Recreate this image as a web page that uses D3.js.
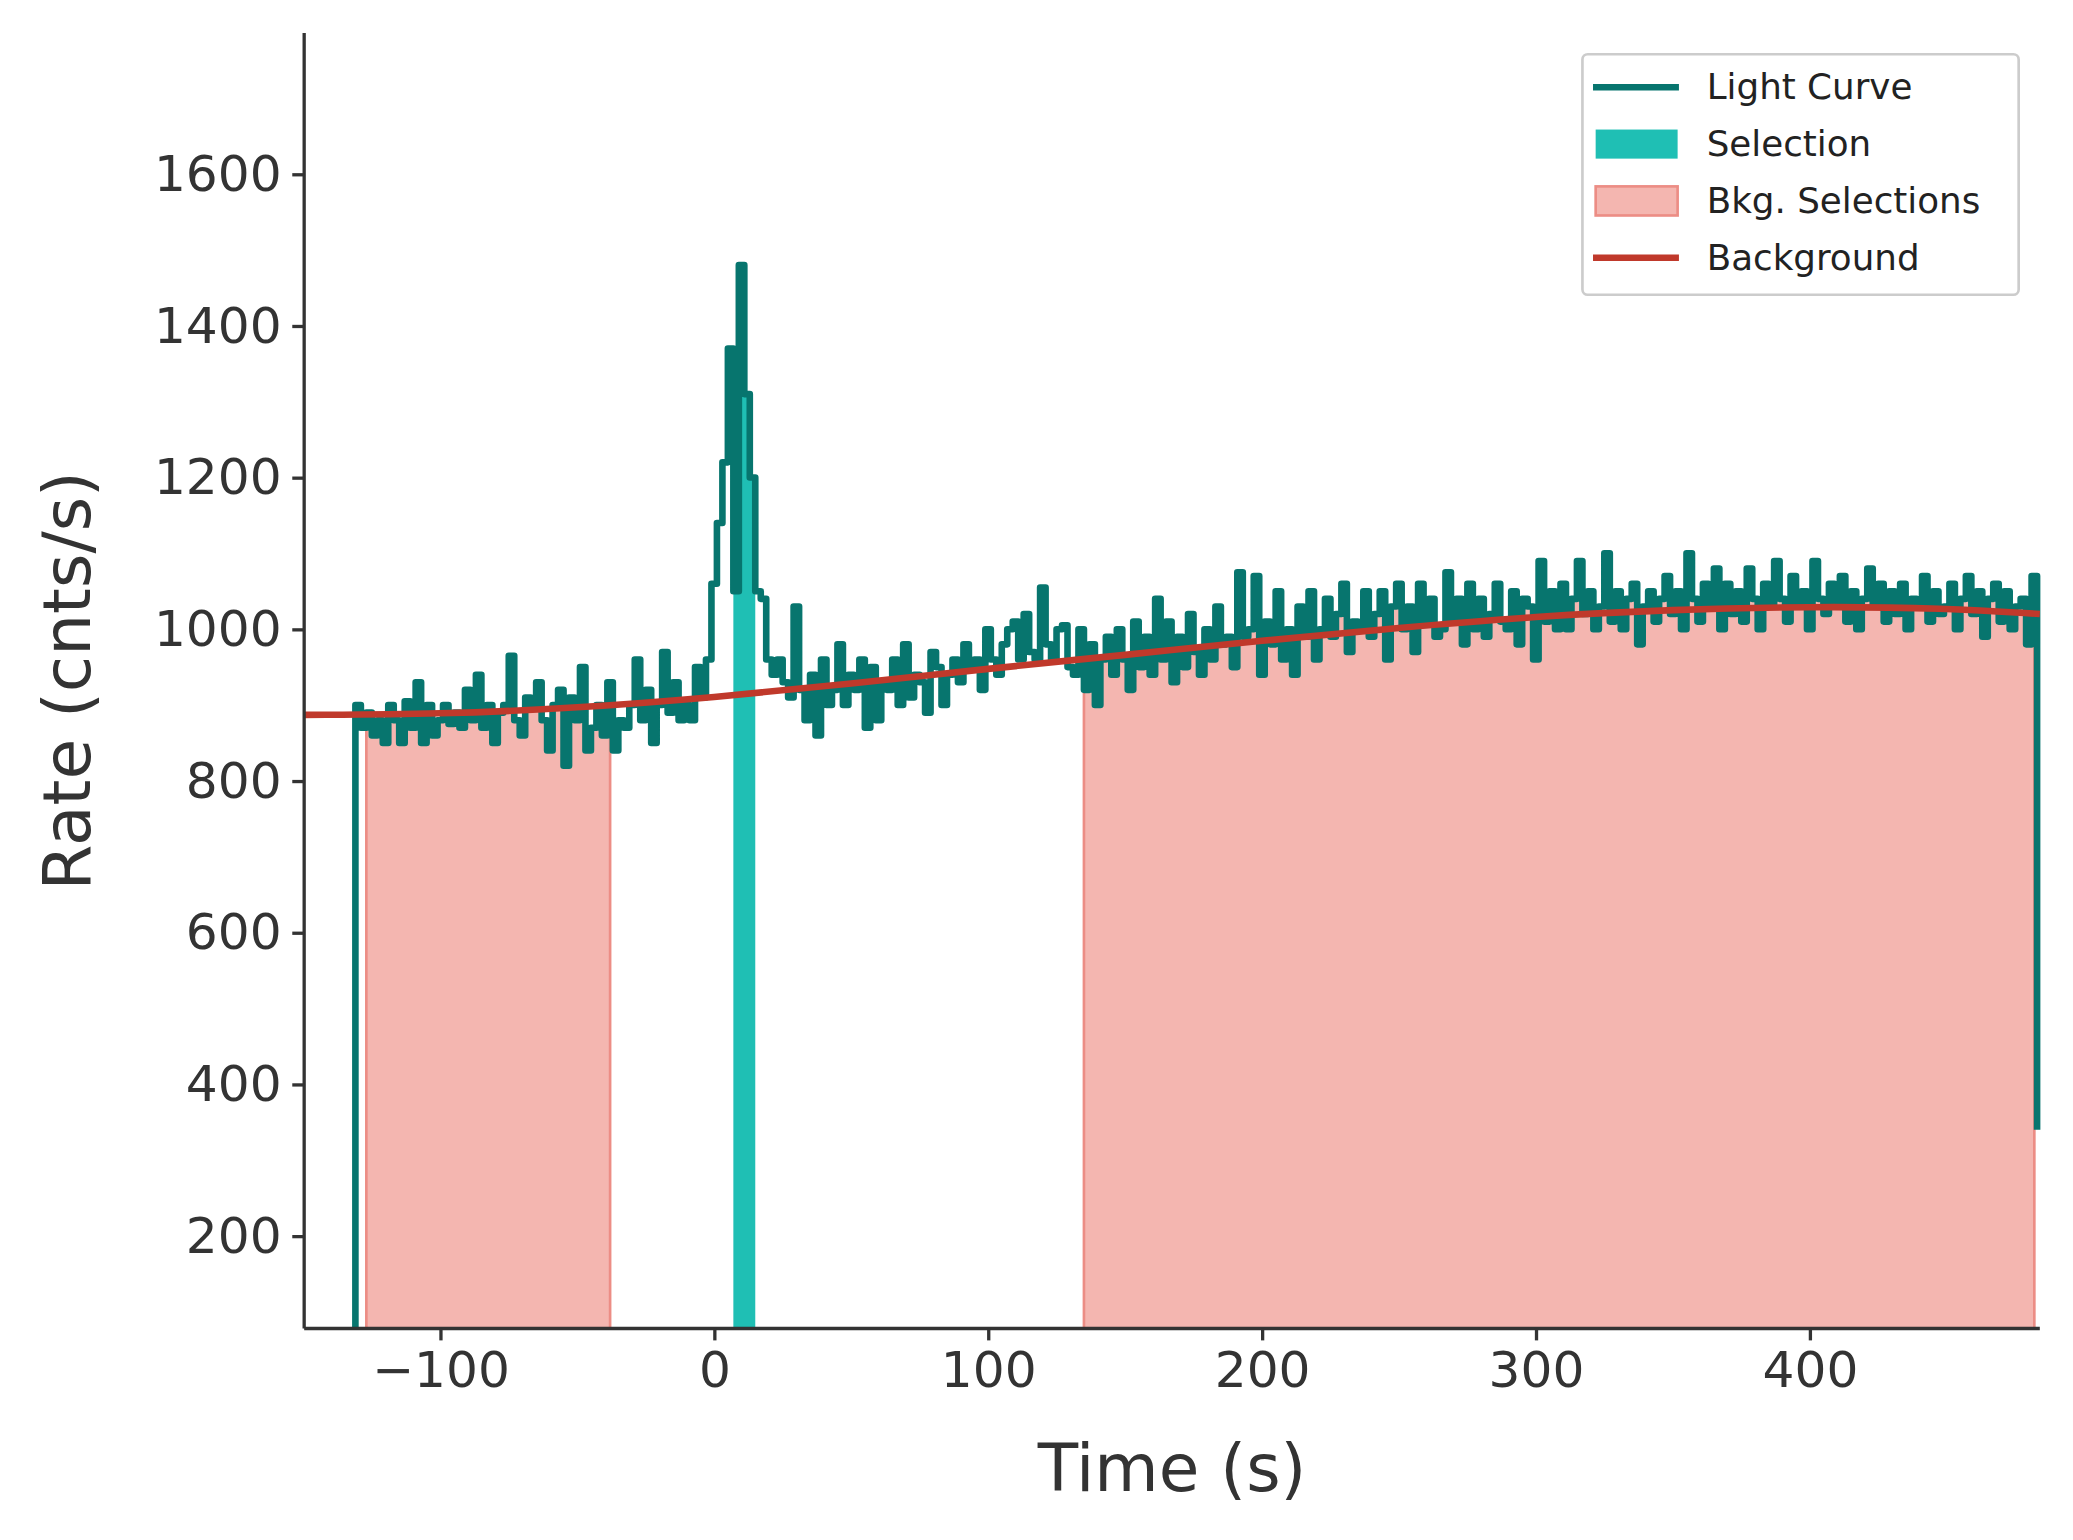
<!DOCTYPE html>
<html><head><meta charset="utf-8">
<script src="https://cdn.jsdelivr.net/npm/d3@7"></script>
<style>body{margin:0;background:#fff}svg{display:block}</style></head>
<body><svg id="c" width="2073" height="1540" viewBox="0 0 1568 1165"></svg>
<script>
const tStart = -131, binWidth = 2;
const rates = [
900,870,890,860,880,850,900,880,850,905,
870,930,850,900,860,880,900,875,890,870,
920,880,940,870,900,850,890,900,965,880,
860,910,900,930,880,840,900,920,820,910,
880,950,840,870,900,860,930,840,880,870,
900,960,880,920,850,900,970,890,930,880,
900,880,950,910,960,1060,1140,1220,1370,1050,
1480,1310,1200,1050,1040,960,940,960,930,910,
1030,920,880,940,860,960,900,920,980,900,
940,920,960,870,950,880,930,920,960,900,
980,910,940,930,890,970,950,900,940,960,
930,980,950,960,920,1000,960,940,980,1000,
1010,960,1020,970,960,1055,980,960,1000,1005,
950,940,1000,920,980,900,960,990,940,1000,
960,920,1010,950,990,940,1040,960,1010,930,
990,950,1020,970,940,1000,960,1030,980,990,
950,1075,990,1000,1070,940,1010,980,1050,960,
1000,940,1030,990,1050,960,1000,1040,990,1020,
1060,970,1010,1000,1050,990,1020,1050,960,1030,
1060,1000,1030,970,1060,1010,1040,990,1000,1075,
1010,1040,980,1060,1000,1040,990,1020,1060,1010,
1000,1050,980,1040,1030,960,1090,1010,1050,1000,
1060,1000,1040,1090,1020,1050,1000,1030,1100,1010,
1050,1000,1040,1060,980,1030,1050,1010,1040,1070,
1020,1050,1000,1100,1040,1010,1060,1030,1080,1000,
1060,1020,1050,1010,1080,1040,1000,1060,1030,1090,
1040,1010,1070,1030,1050,1000,1090,1040,1020,1060,
1030,1070,1010,1050,1000,1040,1080,1030,1060,1010,
1050,1020,1060,1000,1040,1030,1070,1010,1050,1020,
1030,1060,1000,1040,1070,1020,1050,990,1040,1060,
1010,1050,1000,1030,1040,980,1070];
const endRate = 340;
const bkgTimes = [-150,-100,-50,0,50,100,150,200,250,300,350,400,450,484];
const bkgRates = [887,888,896,910,928,948,966,985,1002,1017,1026,1030,1028,1020];
const selection = [7,15];
const bkgSelections = [[-127,-38],[135,482]];
const xTicks = [-100,0,100,200,300,400];
const yTicks = [200,400,600,800,1000,1200,1400,1600];
const legendItems = ["Light Curve","Selection","Bkg. Selections","Background"];

const svg = d3.select("#c");
const L=230,R=1543,T=25,B=1005;
const x = d3.scaleLinear().domain([-149.7,484]).range([L,R]);
const y = d3.scaleLinear().domain([78,1786]).range([B,T]);
const pts = [{t:tStart,v:78}].concat(rates.map((v,i)=>({t:tStart+i*binWidth,v})));
pts.push({t:tStart+rates.length*binWidth,v:endRate});
function valAt(t){let v=pts[0].v;for(const p of pts){if(p.t<=t)v=p.v;else break;}return v;}
function sub(a,b){const s=[{t:a,v:valAt(a)}];pts.forEach(p=>{if(p.t>a&&p.t<b)s.push(p);});s.push({t:b,v:valAt(b)});return s;}
const area = d3.area().curve(d3.curveStepAfter).x(d=>x(d.t)).y0(y(78)).y1(d=>y(d.v));
bkgSelections.forEach(([a,b])=>{
  svg.append("path").attr("d",area(sub(a,b))).attr("fill","#f4b6b0").attr("stroke","#ec8d85").attr("stroke-width",2);
});
svg.append("path").attr("d",area(sub(selection[0],selection[1]))).attr("fill","#1fbfb4");
svg.append("path").attr("d",d3.line().curve(d3.curveStepAfter).x(d=>x(d.t)).y(d=>y(d.v))(pts))
  .attr("fill","none").attr("stroke","#07756e").attr("stroke-width",5).attr("stroke-linejoin","round");
svg.append("path").attr("d",d3.line().curve(d3.curveBasis).x((d,i)=>x(d)).y((d,i)=>y(bkgRates[i]))(bkgTimes))
  .attr("fill","none").attr("stroke","#c0392b").attr("stroke-width",5);

const ax = svg.append("g").attr("transform",`translate(0,${B})`).call(d3.axisBottom(x).tickValues(xTicks).tickSize(9).tickPadding(8).tickFormat(d=>d<0?"\u2212"+(-d):String(d)));
const ay = svg.append("g").attr("transform",`translate(${L},0)`).call(d3.axisLeft(y).tickValues(yTicks).tickSize(9).tickPadding(8).tickFormat(d=>String(d)));
[ax,ay].forEach(g=>{g.selectAll("path,line").attr("stroke","#333").attr("stroke-width",2.5);
  g.selectAll("text").attr("font-family","DejaVu Sans").attr("font-size",38).attr("fill","#333");
  g.select(".domain").attr("d", g===ax?`M${L},0H${R}`:`M0,${T}V${B}`);});
svg.append("text").attr("x",(L+R)/2).attr("y",1128).attr("text-anchor","middle").attr("font-family","DejaVu Sans").attr("font-size",50).attr("fill","#333").text("Time (s)");
svg.append("text").attr("transform",`translate(68,${(T+B)/2}) rotate(-90)`).attr("text-anchor","middle").attr("font-family","DejaVu Sans").attr("font-size",50).attr("fill","#333").text("Rate (cnts/s)");

const lg = svg.append("g");
lg.append("rect").attr("x",1197).attr("y",41).attr("width",330).attr("height",182).attr("rx",4).attr("fill","#fff").attr("stroke","#ccc").attr("stroke-width",2);
legendItems.forEach((s,i)=>{
  const cy=66+i*43;
  if(i===0||i===3) lg.append("line").attr("x1",1205).attr("x2",1270).attr("y1",cy).attr("y2",cy).attr("stroke",i?"#c0392b":"#07756e").attr("stroke-width",5);
  else lg.append("rect").attr("x",1207).attr("y",cy-11).attr("width",62).attr("height",22).attr("fill",i===1?"#1fbfb4":"#f4b6b0").attr("stroke",i===1?"none":"#ec8d85").attr("stroke-width",2);
  lg.append("text").attr("x",1291).attr("y",cy+9).attr("font-family","DejaVu Sans").attr("font-size",27).attr("fill","#222").text(s);
});
</script></body></html>
